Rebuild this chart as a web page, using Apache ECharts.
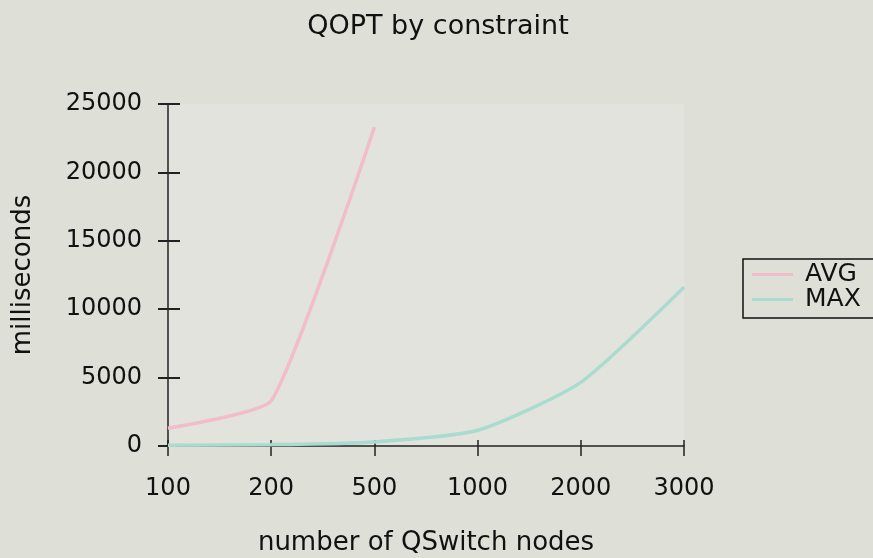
<!DOCTYPE html>
<html><head><meta charset="utf-8">
<script src="https://cdn.jsdelivr.net/npm/echarts@6/dist/echarts.min.js"></script>
<style>html,body{margin:0;padding:0;background:#dedfd7;}#c{width:873px;height:558px;}</style>
</head><body><div id="c"></div>
<script>
var categories = ['100','200','500','1000','2000','3000'];
var avgValues = [1300, 3300, 23300, null, null, null];
var maxValues = [60, 100, 300, 1150, 4650, 11600];
var yTicks = [0, 5000, 10000, 15000, 20000, 25000];

var chart = echarts.init(document.getElementById('c'));
var font = 'DejaVu Sans, sans-serif';
var grid = {left: 168, right: 189, top: 104, bottom: 112, show: true, backgroundColor: '#e3e3dd', borderWidth: 0,
  containLabel: false, outerBoundsMode: 'none'};
chart.setOption({
  backgroundColor: '#dedfd7',
  animation: false,
  title: {text: 'QOPT by constraint', left: 433, textAlign: 'center', top: 8,
    textStyle: {fontFamily: font, fontSize: 27, fontWeight: 'normal', color: '#111'}},
  legend: {orient: 'vertical', left: 743, top: 259, itemWidth: 41, itemHeight: 3, itemGap: 0,
    padding: [3, 40, 6, 9], borderColor: '#111', borderWidth: 1.5,
    icon: 'rect',
    textStyle: {fontFamily: font, fontSize: 25, color: '#111', lineHeight: 21, padding: [0, 0, 0, 7]},
    data: ['AVG', 'MAX']},
  grid: grid,
  xAxis: [{type: 'category', data: categories, boundaryGap: false,
    name: 'number of QSwitch nodes', nameLocation: 'middle', nameGap: 84,
    nameTextStyle: {fontFamily: font, fontSize: 26, color: '#111'},
    axisLine: {lineStyle: {color: '#222', width: 1.5}},
    axisTick: {show: true, length: 10, inside: false, lineStyle: {color: '#222', width: 1.5}},
    axisLabel: {fontFamily: font, fontSize: 24, color: '#111', margin: 31},
    splitLine: {show: false}},
   {type: 'category', data: categories, boundaryGap: false, position: 'bottom',
    axisLine: {show: false}, axisLabel: {show: false},
    axisTick: {show: true, length: 6, inside: true, lineStyle: {color: '#222', width: 1.5}}}],
  yAxis: [{type: 'value', min: 0, max: 25000, interval: 5000,
    name: 'milliseconds', nameLocation: 'middle', nameGap: 132, nameRotate: 90,
    nameTextStyle: {fontFamily: font, fontSize: 26, color: '#111'},
    axisLine: {show: true, lineStyle: {color: '#222', width: 1.5}},
    axisTick: {show: true, length: 10, lineStyle: {color: '#222', width: 2}},
    axisLabel: {fontFamily: font, fontSize: 24, color: '#111', margin: 26,
      formatter: function(v){ return yTicks.indexOf(v) >= 0 ? String(v) : ''; }},
    splitLine: {show: false}},
   {type: 'value', min: 0, max: 25000, interval: 5000, position: 'left',
    axisLine: {show: false}, axisLabel: {show: false}, splitLine: {show: false},
    axisTick: {show: true, inside: true, length: 12, lineStyle: {color: '#222', width: 2}}}],
  series: [
    {name: 'AVG', type: 'line', data: avgValues, symbol: 'none', smooth: 0.15,
     lineStyle: {color: '#f2bccb', width: 3.5}, itemStyle: {color: '#f2bccb'}},
    {name: 'MAX', type: 'line', data: maxValues, symbol: 'none', smooth: 0.2,
     lineStyle: {color: '#a9dccf', width: 3.5}, itemStyle: {color: '#a9dccf'}}
  ]
});
</script></body></html>
